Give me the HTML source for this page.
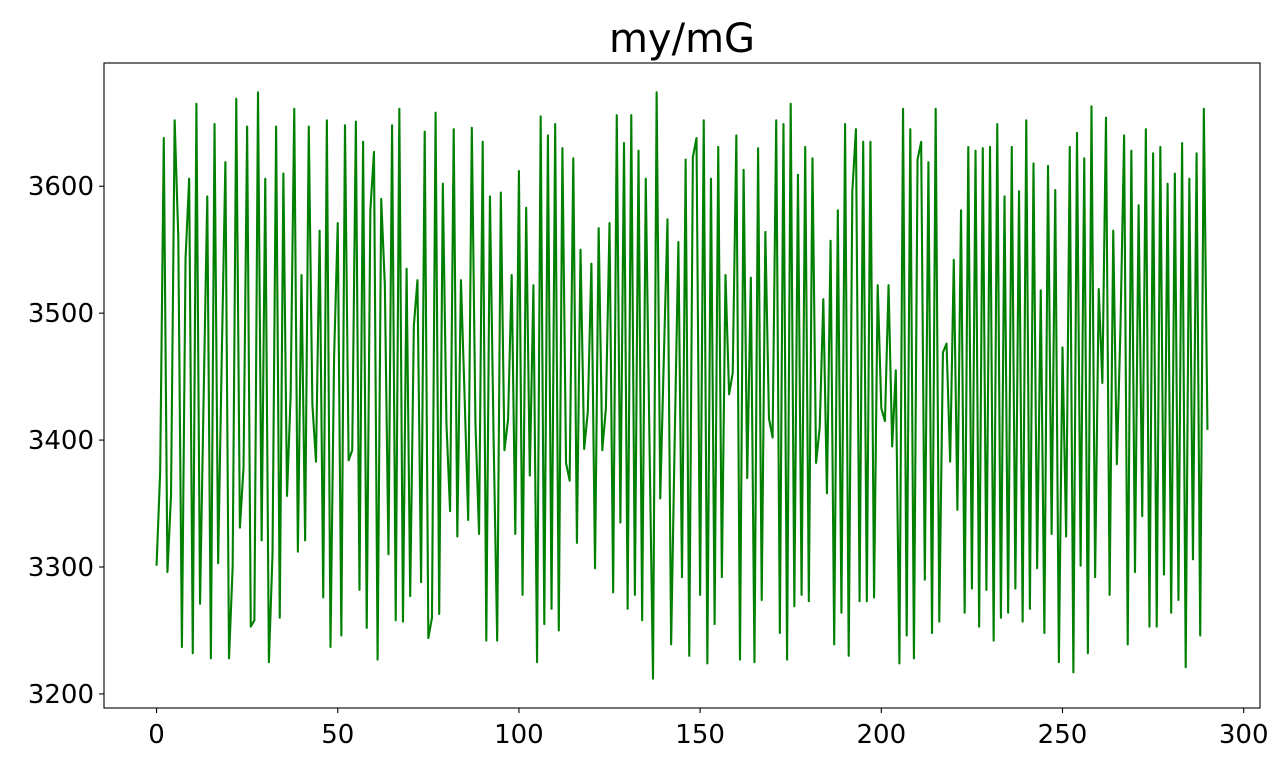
<!DOCTYPE html>
<html><head><meta charset="utf-8">
<style>
html,body{margin:0;padding:0;background:#fff;width:1280px;height:768px;overflow:hidden}
svg text{font-family:"DejaVu Sans","Liberation Sans",sans-serif;fill:#000}
</style></head>
<body>
<svg id="chart" width="1280" height="768" xmlns="http://www.w3.org/2000/svg">
<rect x="0" y="0" width="1280" height="768" fill="#fff"/>
<text x="682" y="52" font-size="40" text-anchor="middle">my/mG</text>
<g id="plot"></g>
</svg>
<script>
const values = [
3301,3375,3638,3296,3357,3652,3560,3237,3543,3606,3232,3665,3271,3435,3592,3228,3649,3303,3466,3619,
3228,3300,3669,3331,3378,3647,3253,3258,3674,3321,3606,3225,3310,3647,3260,3610,3356,3435,3661,3312,
3530,3321,3647,3428,3383,3565,3276,3652,3237,3466,
3571,3246,3648,3384,3392,3651,3282,3635,3252,3581,3627,3227,3590,3522,3310,3648,3258,3661,3257,3535,
3277,3490,3526,3288,3643,3244,3260,3658,3263,3602,3413,3344,3645,3324,3526,3435,3337,3646,3413,3326,
3635,3242,3592,3403,3242,3595,3392,3416,3530,3326,3612,3278,
3583,3372,3522,3225,3655,3255,3640,3267,3649,3250,3630,3382,3368,3622,3319,3550,3393,3422,3539,3299,
3567,3392,3425,3571,3280,3656,3335,3634,3267,3656,3278,3628,3258,3606,3403,3212,3674,3354,3466,3574,
3239,3403,3556,3292,3621,3230,3623,3638,3278,3652,3224,
3606,3255,3631,3292,3530,3436,3453,3640,3227,3613,3370,3528,3225,3630,3274,3564,3417,3402,3652,3248,
3649,3227,3665,3269,3609,3278,3631,3273,3622,3382,3410,3511,3358,3557,3239,3581,3264,3649,3230,3596,
3645,3273,3635,3273,3635,3276,3522,3425,3415,3522,
3395,3455,3224,3661,3246,3645,3228,3621,3635,3290,3619,3248,3661,3257,3469,3476,3383,3542,3345,3581,
3264,3631,3283,3628,3253,3630,3282,3631,3242,3649,3260,3592,3264,3631,3283,3596,3257,3652,3267,3618,
3299,3518,3248,3616,3326,3597,3225,3473,3324,3631,3217,3642,
3301,3622,3232,3663,3292,3519,3445,3654,3278,3565,3381,3489,3640,3239,3628,3296,3585,3340,3645,3253,
3626,3253,3631,3294,3602,3264,3610,3274,3634,3221,3606,3306,3626,3246,3661,3408
];
const xTicks = [0,50,100,150,200,250,300];
const yTicks = [3200,3300,3400,3500,3600];

const L=104,R=1260,T=63,B=708;
const n=values.length-1;
const xm=n*0.05;
const xMin=-xm,xMax=n+xm;
let vMin=Math.min(...values),vMax=Math.max(...values);
const ym=(vMax-vMin)*0.05;
const yMin=vMin-ym,yMax=vMax+ym;
function xs(v){return L+(v-xMin)/(xMax-xMin)*(R-L);}
function ys(v){return B-(v-yMin)/(yMax-yMin)*(B-T);}
const NS="http://www.w3.org/2000/svg";
const g=document.getElementById('plot');
function mk(tag,attrs){const e=document.createElementNS(NS,tag);for(const k in attrs)e.setAttribute(k,attrs[k]);return e;}

const d=values.map((v,i)=>(i?'L':'M')+xs(i).toFixed(2)+','+ys(v).toFixed(2)).join('');
const line=mk('path',{d:d,fill:'none',stroke:'#008000','stroke-width':2.1,'stroke-linejoin':'round'});


g.appendChild(line);

const frame=mk('rect',{x:L,y:T,width:R-L,height:B-T,fill:'none',stroke:'#000','stroke-width':1.1});


g.appendChild(frame);

xTicks.forEach(t=>{
  const x=xs(t);
  const tk=mk('line',{x1:x,y1:B,x2:x,y2:B+5,stroke:'#000','stroke-width':1.1});
  
  
  g.appendChild(tk);
  const tx=mk('text',{x:x,y:B+35,'font-size':26,'text-anchor':'middle'});
  tx.textContent=t;
  
  
  g.appendChild(tx);
});
yTicks.forEach(t=>{
  const y=ys(t);
  const tk=mk('line',{x1:L-5,y1:y,x2:L,y2:y,stroke:'#000','stroke-width':1.1});
  
  
  g.appendChild(tk);
  const tx=mk('text',{x:L-10,y:y+9,'font-size':26,'text-anchor':'end'});
  tx.textContent=t;
  
  
  g.appendChild(tx);
});
</script>
</body></html>
